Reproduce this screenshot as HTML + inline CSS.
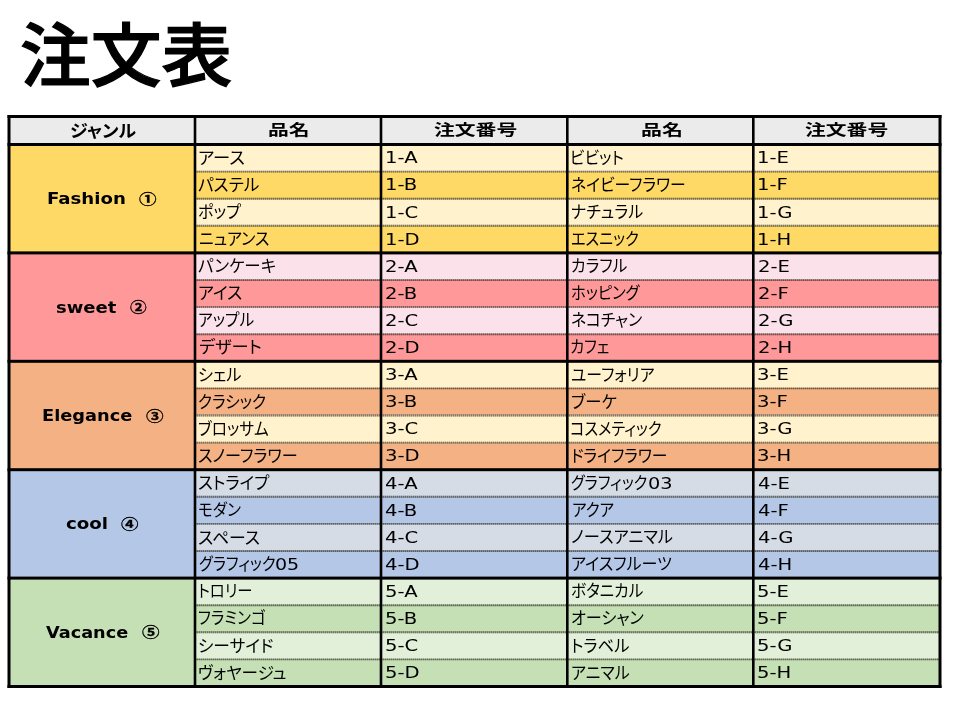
<!DOCTYPE html>
<html lang="ja">
<head>
<meta charset="utf-8">
<title>注文表</title>
<style>
html,body{margin:0;padding:0;background:#fff;}
body{width:960px;height:720px;position:relative;overflow:hidden;font-family:"DejaVu Sans","Liberation Sans","Noto Sans CJK JP",sans-serif;color:#000;}
h1{position:absolute;left:19.5px;top:5px;margin:0;transform-origin:0 0;transform:scale(.982,.96);-webkit-text-stroke:1.3px #000;font-family:"Liberation Sans","Noto Sans CJK JP",sans-serif;font-weight:500;font-size:72px;line-height:108px;white-space:nowrap;}
.tbl{position:absolute;left:0;top:0;width:960px;height:720px;}
.c{position:absolute;overflow:hidden;white-space:nowrap;}
.h{background:#ebebeb;}

.t{position:absolute;white-space:nowrap;transform-origin:0 0;display:block;}
.kn{font-family:"Liberation Sans","Noto Sans CJK JP",sans-serif;font-size:17px;font-feature-settings:"palt";font-weight:400;}
.dg{font-family:"DejaVu Sans","Liberation Sans",sans-serif;font-size:16.3px;font-weight:400;}
.od{font-family:"DejaVu Sans","Liberation Sans",sans-serif;font-size:16.3px;font-weight:400;}
.wd{font-family:"DejaVu Sans","Liberation Sans",sans-serif;font-size:16.2px;font-weight:700;}
.ci{font-family:"Liberation Sans","Noto Sans CJK JP",sans-serif;font-size:13.8px;font-weight:700;-webkit-text-stroke:.3px #000;}
.hd{font-family:"Liberation Sans","Noto Sans CJK JP",sans-serif;font-size:15.2px;font-weight:700;}
.hk{font-family:"Liberation Sans","Noto Sans CJK JP",sans-serif;font-size:17.4px;font-weight:700;font-feature-settings:"palt";}
.ln{position:absolute;left:0;top:0;}
</style>
</head>
<body>
<h1>注文表</h1>
<div class="tbl">
<div class="c h" style="left:9px;top:116.5px;width:186px;height:28px;"><span class="t hk" style="left:60.66px;top:0.25px;line-height:28px;transform:scaleX(1.035)">ジャンル</span></div>
<div class="c h" style="left:195px;top:116.5px;width:186px;height:28px;"><span class="t hd" style="left:73.33px;top:-0.3px;line-height:28px;transform:scaleX(1.370)">品名</span></div>
<div class="c h" style="left:381px;top:116.5px;width:186.3px;height:28px;"><span class="t hd" style="left:52.72px;top:-0.3px;line-height:28px;transform:scaleX(1.370)">注文番号</span></div>
<div class="c h" style="left:567.3px;top:116.5px;width:186px;height:28px;"><span class="t hd" style="left:73.42px;top:-0.3px;line-height:28px;transform:scaleX(1.381)">品名</span></div>
<div class="c h" style="left:753.3px;top:116.5px;width:186.7px;height:28px;"><span class="t hd" style="left:52.12px;top:-0.3px;line-height:28px;transform:scaleX(1.370)">注文番号</span></div>
<div class="c g" style="left:9px;top:144.5px;width:186px;height:108.4px;background:#ffd966;"><span class="t wd" style="left:38.06px;top:0.55px;line-height:108.4px;transform:scaleX(1.120)">Fashion</span><span class="t ci" style="left:129.9px;top:1.15px;line-height:108.4px;transform:scaleX(1.275)">①</span></div>
<div class="c n" style="left:195px;top:144.5px;width:186px;height:27.1px;background:#fff2cc;"><span class="t kn" style="left:2.61px;top:0.7px;line-height:27.1px;transform:scaleX(1.018)">アース</span></div>
<div class="c o" style="left:381px;top:144.5px;width:186.3px;height:27.1px;background:#fff2cc;"><span class="t od" style="left:4.48px;top:-0.7px;line-height:27.1px;transform:scaleX(1.205)">1-A</span></div>
<div class="c n" style="left:567.3px;top:144.5px;width:186px;height:27.1px;background:#fff2cc;"><span class="t kn" style="left:2.54px;top:0.7px;line-height:27.1px;transform:scaleX(0.933)">ビビット</span></div>
<div class="c o" style="left:753.3px;top:144.5px;width:186.7px;height:27.1px;background:#fff2cc;"><span class="t od" style="left:3.98px;top:-0.7px;line-height:27.1px;transform:scaleX(1.205)">1-E</span></div>
<div class="c n" style="left:195px;top:171.6px;width:186px;height:27.1px;background:#ffd966;"><span class="t kn" style="left:2.82px;top:0.7px;line-height:27.1px;transform:scaleX(0.979)">パステル</span></div>
<div class="c o" style="left:381px;top:171.6px;width:186.3px;height:27.1px;background:#ffd966;"><span class="t od" style="left:4.48px;top:-0.7px;line-height:27.1px;transform:scaleX(1.205)">1-B</span></div>
<div class="c n" style="left:567.3px;top:171.6px;width:186px;height:27.1px;background:#ffd966;"><span class="t kn" style="left:3.29px;top:0.7px;line-height:27.1px;transform:scaleX(0.931)">ネイビーフラワー</span></div>
<div class="c o" style="left:753.3px;top:171.6px;width:186.7px;height:27.1px;background:#ffd966;"><span class="t od" style="left:3.98px;top:-0.7px;line-height:27.1px;transform:scaleX(1.205)">1-F</span></div>
<div class="c n" style="left:195px;top:198.7px;width:186px;height:27.1px;background:#fff2cc;"><span class="t kn" style="left:3.05px;top:0.7px;line-height:27.1px;transform:scaleX(0.945)">ポップ</span></div>
<div class="c o" style="left:381px;top:198.7px;width:186.3px;height:27.1px;background:#fff2cc;"><span class="t od" style="left:4.48px;top:0.3px;line-height:27.1px;transform:scaleX(1.205)">1-C</span></div>
<div class="c n" style="left:567.3px;top:198.7px;width:186px;height:27.1px;background:#fff2cc;"><span class="t kn" style="left:3.96px;top:0.7px;line-height:27.1px;transform:scaleX(0.941)">ナチュラル</span></div>
<div class="c o" style="left:753.3px;top:198.7px;width:186.7px;height:27.1px;background:#fff2cc;"><span class="t od" style="left:3.98px;top:0.3px;line-height:27.1px;transform:scaleX(1.205)">1-G</span></div>
<div class="c n" style="left:195px;top:225.8px;width:186px;height:27.1px;background:#ffd966;"><span class="t kn" style="left:3.73px;top:0.7px;line-height:27.1px;transform:scaleX(0.941)">ニュアンス</span></div>
<div class="c o" style="left:381px;top:225.8px;width:186.3px;height:27.1px;background:#ffd966;"><span class="t od" style="left:4.48px;top:0.3px;line-height:27.1px;transform:scaleX(1.205)">1-D</span></div>
<div class="c n" style="left:567.3px;top:225.8px;width:186px;height:27.1px;background:#ffd966;"><span class="t kn" style="left:4.01px;top:0.7px;line-height:27.1px;transform:scaleX(0.892)">エスニック</span></div>
<div class="c o" style="left:753.3px;top:225.8px;width:186.7px;height:27.1px;background:#ffd966;"><span class="t od" style="left:3.98px;top:0.3px;line-height:27.1px;transform:scaleX(1.205)">1-H</span></div>
<div class="c g" style="left:9px;top:252.9px;width:186px;height:108.4px;background:#ff9999;"><span class="t wd" style="left:47.37px;top:1.55px;line-height:108.4px;transform:scaleX(1.111)">sweet</span><span class="t ci" style="left:121px;top:1.15px;line-height:108.4px;transform:scaleX(1.209)">②</span></div>
<div class="c n" style="left:195px;top:252.9px;width:186px;height:27.1px;background:#fbe1ea;"><span class="t kn" style="left:3.27px;top:-0.3px;line-height:27.1px;transform:scaleX(0.971)">パンケーキ</span></div>
<div class="c o" style="left:381px;top:252.9px;width:186.3px;height:27.1px;background:#fbe1ea;"><span class="t od" style="left:4.25px;top:0.3px;line-height:27.1px;transform:scaleX(1.205)">2-A</span></div>
<div class="c n" style="left:567.3px;top:252.9px;width:186px;height:27.1px;background:#fbe1ea;"><span class="t kn" style="left:3.27px;top:-0.3px;line-height:27.1px;transform:scaleX(0.933)">カラフル</span></div>
<div class="c o" style="left:753.3px;top:252.9px;width:186.7px;height:27.1px;background:#fbe1ea;"><span class="t od" style="left:4.25px;top:0.3px;line-height:27.1px;transform:scaleX(1.205)">2-E</span></div>
<div class="c n" style="left:195px;top:280px;width:186px;height:27.1px;background:#ff9999;"><span class="t kn" style="left:2.76px;top:-0.3px;line-height:27.1px;transform:scaleX(0.992)">アイス</span></div>
<div class="c o" style="left:381px;top:280px;width:186.3px;height:27.1px;background:#ff9999;"><span class="t od" style="left:4.25px;top:0.3px;line-height:27.1px;transform:scaleX(1.205)">2-B</span></div>
<div class="c n" style="left:567.3px;top:280px;width:186px;height:27.1px;background:#ff9999;"><span class="t kn" style="left:3.35px;top:-0.3px;line-height:27.1px;transform:scaleX(0.899)">ホッピング</span></div>
<div class="c o" style="left:753.3px;top:280px;width:186.7px;height:27.1px;background:#ff9999;"><span class="t od" style="left:4.25px;top:0.3px;line-height:27.1px;transform:scaleX(1.205)">2-F</span></div>
<div class="c n" style="left:195px;top:307.1px;width:186px;height:27.1px;background:#fbe1ea;"><span class="t kn" style="left:3.32px;top:-0.3px;line-height:27.1px;transform:scaleX(0.926)">アップル</span></div>
<div class="c o" style="left:381px;top:307.1px;width:186.3px;height:27.1px;background:#fbe1ea;"><span class="t od" style="left:4.25px;top:0.3px;line-height:27.1px;transform:scaleX(1.205)">2-C</span></div>
<div class="c n" style="left:567.3px;top:307.1px;width:186px;height:27.1px;background:#fbe1ea;"><span class="t kn" style="left:3.29px;top:-0.3px;line-height:27.1px;transform:scaleX(0.931)">ネコチャン</span></div>
<div class="c o" style="left:753.3px;top:307.1px;width:186.7px;height:27.1px;background:#fbe1ea;"><span class="t od" style="left:4.25px;top:0.3px;line-height:27.1px;transform:scaleX(1.205)">2-G</span></div>
<div class="c n" style="left:195px;top:334.2px;width:186px;height:27.1px;background:#ff9999;"><span class="t kn" style="left:3.6px;top:-0.3px;line-height:27.1px;transform:scaleX(1.014)">デザート</span></div>
<div class="c o" style="left:381px;top:334.2px;width:186.3px;height:27.1px;background:#ff9999;"><span class="t od" style="left:4.25px;top:0.3px;line-height:27.1px;transform:scaleX(1.205)">2-D</span></div>
<div class="c n" style="left:567.3px;top:334.2px;width:186px;height:27.1px;background:#ff9999;"><span class="t kn" style="left:3.01px;top:-0.3px;line-height:27.1px;transform:scaleX(0.895)">カフェ</span></div>
<div class="c o" style="left:753.3px;top:334.2px;width:186.7px;height:27.1px;background:#ff9999;"><span class="t od" style="left:4.25px;top:0.3px;line-height:27.1px;transform:scaleX(1.205)">2-H</span></div>
<div class="c g" style="left:9px;top:361.3px;width:186px;height:108.4px;background:#f4b183;"><span class="t wd" style="left:32.55px;top:0.55px;line-height:108.4px;transform:scaleX(1.099)">Elegance</span><span class="t ci" style="left:136.9px;top:2.15px;line-height:108.4px;transform:scaleX(1.278)">③</span></div>
<div class="c n" style="left:195px;top:361.3px;width:186px;height:27.1px;background:#fff2cc;"><span class="t kn" style="left:2.97px;top:0.7px;line-height:27.1px;transform:scaleX(0.956)">シェル</span></div>
<div class="c o" style="left:381px;top:361.3px;width:186.3px;height:27.1px;background:#fff2cc;"><span class="t od" style="left:3.63px;top:-0.7px;line-height:27.1px;transform:scaleX(1.205)">3-A</span></div>
<div class="c n" style="left:567.3px;top:361.3px;width:186px;height:27.1px;background:#fff2cc;"><span class="t kn" style="left:3.36px;top:0.7px;line-height:27.1px;transform:scaleX(0.932)">ユーフォリア</span></div>
<div class="c o" style="left:753.3px;top:361.3px;width:186.7px;height:27.1px;background:#fff2cc;"><span class="t od" style="left:3.63px;top:-0.7px;line-height:27.1px;transform:scaleX(1.205)">3-E</span></div>
<div class="c n" style="left:195px;top:388.4px;width:186px;height:27.1px;background:#f4b183;"><span class="t kn" style="left:3.42px;top:0.7px;line-height:27.1px;transform:scaleX(0.919)">クラシック</span></div>
<div class="c o" style="left:381px;top:388.4px;width:186.3px;height:27.1px;background:#f4b183;"><span class="t od" style="left:3.62px;top:-0.7px;line-height:27.1px;transform:scaleX(1.205)">3-B</span></div>
<div class="c n" style="left:567.3px;top:388.4px;width:186px;height:27.1px;background:#f4b183;"><span class="t kn" style="left:3.94px;top:0.7px;line-height:27.1px;transform:scaleX(0.961)">ブーケ</span></div>
<div class="c o" style="left:753.3px;top:388.4px;width:186.7px;height:27.1px;background:#f4b183;"><span class="t od" style="left:3.62px;top:-0.7px;line-height:27.1px;transform:scaleX(1.205)">3-F</span></div>
<div class="c n" style="left:195px;top:415.5px;width:186px;height:27.1px;background:#fff2cc;"><span class="t kn" style="left:3.38px;top:0.7px;line-height:27.1px;transform:scaleX(0.924)">ブロッサム</span></div>
<div class="c o" style="left:381px;top:415.5px;width:186.3px;height:27.1px;background:#fff2cc;"><span class="t od" style="left:3.63px;top:-0.7px;line-height:27.1px;transform:scaleX(1.205)">3-C</span></div>
<div class="c n" style="left:567.3px;top:415.5px;width:186px;height:27.1px;background:#fff2cc;"><span class="t kn" style="left:3.16px;top:0.7px;line-height:27.1px;transform:scaleX(0.893)">コスメティック</span></div>
<div class="c o" style="left:753.3px;top:415.5px;width:186.7px;height:27.1px;background:#fff2cc;"><span class="t od" style="left:3.63px;top:-0.7px;line-height:27.1px;transform:scaleX(1.205)">3-G</span></div>
<div class="c n" style="left:195px;top:442.6px;width:186px;height:27.1px;background:#f4b183;"><span class="t kn" style="left:3.13px;top:0.7px;line-height:27.1px;transform:scaleX(0.948)">スノーフラワー</span></div>
<div class="c o" style="left:381px;top:442.6px;width:186.3px;height:27.1px;background:#f4b183;"><span class="t od" style="left:3.62px;top:-0.7px;line-height:27.1px;transform:scaleX(1.205)">3-D</span></div>
<div class="c n" style="left:567.3px;top:442.6px;width:186px;height:27.1px;background:#f4b183;"><span class="t kn" style="left:3.23px;top:0.7px;line-height:27.1px;transform:scaleX(0.929)">ドライフラワー</span></div>
<div class="c o" style="left:753.3px;top:442.6px;width:186.7px;height:27.1px;background:#f4b183;"><span class="t od" style="left:3.62px;top:-0.7px;line-height:27.1px;transform:scaleX(1.205)">3-H</span></div>
<div class="c g" style="left:9px;top:469.7px;width:186px;height:108.4px;background:#b4c7e7;"><span class="t wd" style="left:57.17px;top:0.55px;line-height:108.4px;transform:scaleX(1.126)">cool</span><span class="t ci" style="left:111.9px;top:1.15px;line-height:108.4px;transform:scaleX(1.269)">④</span></div>
<div class="c n" style="left:195px;top:469.7px;width:186px;height:27.1px;background:#d6dce5;"><span class="t kn" style="left:3.08px;top:0.7px;line-height:27.1px;transform:scaleX(0.968)">ストライプ</span></div>
<div class="c o" style="left:381px;top:469.7px;width:186.3px;height:27.1px;background:#d6dce5;"><span class="t od" style="left:3.75px;top:0.3px;line-height:27.1px;transform:scaleX(1.205)">4-A</span></div>
<div class="c n" style="left:567.3px;top:469.7px;width:186px;height:27.1px;background:#d6dce5;"><span class="t kn" style="left:4.14px;top:0.7px;line-height:27.1px;transform:scaleX(0.890)">グラフィック</span><span class="t dg" style="left:80.31px;top:0.3px;line-height:27.1px;transform:scaleX(1.185)">03</span></div>
<div class="c o" style="left:753.3px;top:469.7px;width:186.7px;height:27.1px;background:#d6dce5;"><span class="t od" style="left:4.25px;top:0.3px;line-height:27.1px;transform:scaleX(1.205)">4-E</span></div>
<div class="c n" style="left:195px;top:496.8px;width:186px;height:27.1px;background:#b4c7e7;"><span class="t kn" style="left:3.38px;top:0.7px;line-height:27.1px;transform:scaleX(0.917)">モダン</span></div>
<div class="c o" style="left:381px;top:496.8px;width:186.3px;height:27.1px;background:#b4c7e7;"><span class="t od" style="left:3.75px;top:0.3px;line-height:27.1px;transform:scaleX(1.205)">4-B</span></div>
<div class="c n" style="left:567.3px;top:496.8px;width:186px;height:27.1px;background:#b4c7e7;"><span class="t kn" style="left:4.24px;top:0.7px;line-height:27.1px;transform:scaleX(0.914)">アクア</span></div>
<div class="c o" style="left:753.3px;top:496.8px;width:186.7px;height:27.1px;background:#b4c7e7;"><span class="t od" style="left:4.25px;top:0.3px;line-height:27.1px;transform:scaleX(1.205)">4-F</span></div>
<div class="c n" style="left:195px;top:523.9px;width:186px;height:27.1px;background:#d6dce5;"><span class="t kn" style="left:3.01px;top:0.7px;line-height:27.1px;transform:scaleX(0.991)">スペース</span></div>
<div class="c o" style="left:381px;top:523.9px;width:186.3px;height:27.1px;background:#d6dce5;"><span class="t od" style="left:3.75px;top:0.3px;line-height:27.1px;transform:scaleX(1.205)">4-C</span></div>
<div class="c n" style="left:567.3px;top:523.9px;width:186px;height:27.1px;background:#d6dce5;"><span class="t kn" style="left:3.29px;top:-0.3px;line-height:27.1px;transform:scaleX(0.955)">ノースアニマル</span></div>
<div class="c o" style="left:753.3px;top:523.9px;width:186.7px;height:27.1px;background:#d6dce5;"><span class="t od" style="left:4.25px;top:0.3px;line-height:27.1px;transform:scaleX(1.205)">4-G</span></div>
<div class="c n" style="left:195px;top:551px;width:186px;height:27.1px;background:#b4c7e7;"><span class="t kn" style="left:3.56px;top:-0.3px;line-height:27.1px;transform:scaleX(0.893)">グラフィック</span><span class="t dg" style="left:79.63px;top:0.3px;line-height:27.1px;transform:scaleX(1.170)">05</span></div>
<div class="c o" style="left:381px;top:551px;width:186.3px;height:27.1px;background:#b4c7e7;"><span class="t od" style="left:3.75px;top:0.3px;line-height:27.1px;transform:scaleX(1.205)">4-D</span></div>
<div class="c n" style="left:567.3px;top:551px;width:186px;height:27.1px;background:#b4c7e7;"><span class="t kn" style="left:3.89px;top:-0.3px;line-height:27.1px;transform:scaleX(0.943)">アイスフルーツ</span></div>
<div class="c o" style="left:753.3px;top:551px;width:186.7px;height:27.1px;background:#b4c7e7;"><span class="t od" style="left:4.25px;top:0.3px;line-height:27.1px;transform:scaleX(1.205)">4-H</span></div>
<div class="c g" style="left:9px;top:578.1px;width:186px;height:108.4px;background:#c5e0b4;"><span class="t wd" style="left:36.6px;top:0.55px;line-height:108.4px;transform:scaleX(1.093)">Vacance</span><span class="t ci" style="left:132.5px;top:1.15px;line-height:108.4px;transform:scaleX(1.274)">⑤</span></div>
<div class="c n" style="left:195px;top:578.1px;width:186px;height:27.1px;background:#e2f0d9;"><span class="t kn" style="left:3.24px;top:-0.3px;line-height:27.1px;transform:scaleX(0.903)">トロリー</span></div>
<div class="c o" style="left:381px;top:578.1px;width:186.3px;height:27.1px;background:#e2f0d9;"><span class="t od" style="left:3.53px;top:0.3px;line-height:27.1px;transform:scaleX(1.205)">5-A</span></div>
<div class="c n" style="left:567.3px;top:578.1px;width:186px;height:27.1px;background:#e2f0d9;"><span class="t kn" style="left:3.98px;top:-0.3px;line-height:27.1px;transform:scaleX(0.921)">ボタニカル</span></div>
<div class="c o" style="left:753.3px;top:578.1px;width:186.7px;height:27.1px;background:#e2f0d9;"><span class="t od" style="left:3.53px;top:0.3px;line-height:27.1px;transform:scaleX(1.205)">5-E</span></div>
<div class="c n" style="left:195px;top:605.2px;width:186px;height:27.1px;background:#c5e0b4;"><span class="t kn" style="left:3.4px;top:-0.3px;line-height:27.1px;transform:scaleX(0.914)">フラミンゴ</span></div>
<div class="c o" style="left:381px;top:605.2px;width:186.3px;height:27.1px;background:#c5e0b4;"><span class="t od" style="left:3.53px;top:0.3px;line-height:27.1px;transform:scaleX(1.205)">5-B</span></div>
<div class="c n" style="left:567.3px;top:605.2px;width:186px;height:27.1px;background:#c5e0b4;"><span class="t kn" style="left:3.34px;top:-0.3px;line-height:27.1px;transform:scaleX(0.948)">オーシャン</span></div>
<div class="c o" style="left:753.3px;top:605.2px;width:186.7px;height:27.1px;background:#c5e0b4;"><span class="t od" style="left:3.53px;top:0.3px;line-height:27.1px;transform:scaleX(1.205)">5-F</span></div>
<div class="c n" style="left:195px;top:632.3px;width:186px;height:27.1px;background:#e2f0d9;"><span class="t kn" style="left:2.69px;top:0.7px;line-height:27.1px;transform:scaleX(0.983)">シーサイド</span></div>
<div class="c o" style="left:381px;top:632.3px;width:186.3px;height:27.1px;background:#e2f0d9;"><span class="t od" style="left:3.53px;top:-0.7px;line-height:27.1px;transform:scaleX(1.205)">5-C</span></div>
<div class="c n" style="left:567.3px;top:632.3px;width:186px;height:27.1px;background:#e2f0d9;"><span class="t kn" style="left:3.93px;top:0.7px;line-height:27.1px;transform:scaleX(0.958)">トラベル</span></div>
<div class="c o" style="left:753.3px;top:632.3px;width:186.7px;height:27.1px;background:#e2f0d9;"><span class="t od" style="left:3.53px;top:-0.7px;line-height:27.1px;transform:scaleX(1.205)">5-G</span></div>
<div class="c n" style="left:195px;top:659.4px;width:186px;height:27.1px;background:#c5e0b4;"><span class="t kn" style="left:3.33px;top:0.7px;line-height:27.1px;transform:scaleX(0.974)">ヴォヤージュ</span></div>
<div class="c o" style="left:381px;top:659.4px;width:186.3px;height:27.1px;background:#c5e0b4;"><span class="t od" style="left:3.53px;top:-0.7px;line-height:27.1px;transform:scaleX(1.205)">5-D</span></div>
<div class="c n" style="left:567.3px;top:659.4px;width:186px;height:27.1px;background:#c5e0b4;"><span class="t kn" style="left:4.19px;top:0.7px;line-height:27.1px;transform:scaleX(0.942)">アニマル</span></div>
<div class="c o" style="left:753.3px;top:659.4px;width:186.7px;height:27.1px;background:#c5e0b4;"><span class="t od" style="left:3.53px;top:-0.7px;line-height:27.1px;transform:scaleX(1.205)">5-H</span></div>
</div>
<svg class="ln" width="960" height="720" viewBox="0 0 960 720">
<g stroke="#1a1a10" stroke-width="1.9" fill="none">
<line x1="195" y1="171.6" x2="940" y2="171.6" stroke-opacity=".36"/>
<line x1="195" y1="171.6" x2="940" y2="171.6" stroke-opacity=".34" stroke-dasharray="1 1"/>
<line x1="195" y1="198.7" x2="940" y2="198.7" stroke-opacity=".36"/>
<line x1="195" y1="198.7" x2="940" y2="198.7" stroke-opacity=".34" stroke-dasharray="1 1"/>
<line x1="195" y1="225.8" x2="940" y2="225.8" stroke-opacity=".36"/>
<line x1="195" y1="225.8" x2="940" y2="225.8" stroke-opacity=".34" stroke-dasharray="1 1"/>
<line x1="195" y1="280" x2="940" y2="280" stroke-opacity=".36"/>
<line x1="195" y1="280" x2="940" y2="280" stroke-opacity=".34" stroke-dasharray="1 1"/>
<line x1="195" y1="307.1" x2="940" y2="307.1" stroke-opacity=".36"/>
<line x1="195" y1="307.1" x2="940" y2="307.1" stroke-opacity=".34" stroke-dasharray="1 1"/>
<line x1="195" y1="334.2" x2="940" y2="334.2" stroke-opacity=".36"/>
<line x1="195" y1="334.2" x2="940" y2="334.2" stroke-opacity=".34" stroke-dasharray="1 1"/>
<line x1="195" y1="388.4" x2="940" y2="388.4" stroke-opacity=".36"/>
<line x1="195" y1="388.4" x2="940" y2="388.4" stroke-opacity=".34" stroke-dasharray="1 1"/>
<line x1="195" y1="415.5" x2="940" y2="415.5" stroke-opacity=".36"/>
<line x1="195" y1="415.5" x2="940" y2="415.5" stroke-opacity=".34" stroke-dasharray="1 1"/>
<line x1="195" y1="442.6" x2="940" y2="442.6" stroke-opacity=".36"/>
<line x1="195" y1="442.6" x2="940" y2="442.6" stroke-opacity=".34" stroke-dasharray="1 1"/>
<line x1="195" y1="496.8" x2="940" y2="496.8" stroke-opacity=".36"/>
<line x1="195" y1="496.8" x2="940" y2="496.8" stroke-opacity=".34" stroke-dasharray="1 1"/>
<line x1="195" y1="523.9" x2="940" y2="523.9" stroke-opacity=".36"/>
<line x1="195" y1="523.9" x2="940" y2="523.9" stroke-opacity=".34" stroke-dasharray="1 1"/>
<line x1="195" y1="551" x2="940" y2="551" stroke-opacity=".36"/>
<line x1="195" y1="551" x2="940" y2="551" stroke-opacity=".34" stroke-dasharray="1 1"/>
<line x1="195" y1="605.2" x2="940" y2="605.2" stroke-opacity=".36"/>
<line x1="195" y1="605.2" x2="940" y2="605.2" stroke-opacity=".34" stroke-dasharray="1 1"/>
<line x1="195" y1="632.3" x2="940" y2="632.3" stroke-opacity=".36"/>
<line x1="195" y1="632.3" x2="940" y2="632.3" stroke-opacity=".34" stroke-dasharray="1 1"/>
<line x1="195" y1="659.4" x2="940" y2="659.4" stroke-opacity=".36"/>
<line x1="195" y1="659.4" x2="940" y2="659.4" stroke-opacity=".34" stroke-dasharray="1 1"/>
</g>
<g fill="#000">
<rect x="7.5" y="115" width="934" height="3"/>
<rect x="7.5" y="143" width="934" height="3"/>
<rect x="7.5" y="251.4" width="934" height="3"/>
<rect x="7.5" y="359.8" width="934" height="3"/>
<rect x="7.5" y="468.2" width="934" height="3"/>
<rect x="7.5" y="576.6" width="934" height="3"/>
<rect x="7.5" y="685" width="934" height="3"/>
<rect x="7.5" y="115" width="3" height="573"/>
<rect x="193.7" y="115" width="2.6" height="573"/>
<rect x="379.7" y="115" width="2.6" height="573"/>
<rect x="566" y="115" width="2.6" height="573"/>
<rect x="752" y="115" width="2.6" height="573"/>
<rect x="938.5" y="115" width="3" height="573"/>
</g>
</svg>
</body>
</html>
